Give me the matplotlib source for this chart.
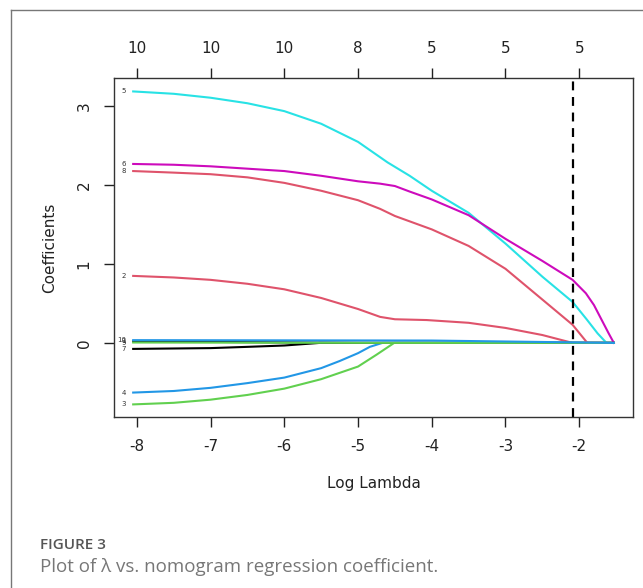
import matplotlib
matplotlib.use("Agg")
import matplotlib.pyplot as plt
from matplotlib.lines import Line2D

# --- 데이터 ---
x_ticks = [-8, -7, -6, -5, -4, -3, -2]
df_top = ["10", "10", "10", "8", "5", "5", "5"]
lambda_min = -2.09

var_labels = ["1", "2", "3", "4", "5", "6", "7", "8", "9", "10"]

x1 = [-8.05, -5.0, -1.53]
y1 = [0.02, 0.0, 0.0]

x2 = [-8.05, -7.5, -7.0, -6.5, -6.0, -5.5, -5.0, -4.7, -4.5, -4.07, -3.5, -3.0, -2.5, -2.09, -1.53]
y2 = [0.85, 0.83, 0.80, 0.75, 0.68, 0.57, 0.43, 0.33, 0.30, 0.29, 0.255, 0.19, 0.10, 0.0, 0.0]

x3 = [-8.05, -7.5, -7.0, -6.5, -6.0, -5.5, -5.0, -4.75, -4.51, -1.53]
y3 = [-0.78, -0.76, -0.72, -0.66, -0.58, -0.46, -0.30, -0.15, 0.0, 0.0]

x4 = [-8.05, -7.5, -7.0, -6.5, -6.0, -5.5, -5.25, -5.0, -4.84, -4.67, -1.53]
y4 = [-0.63, -0.61, -0.57, -0.51, -0.44, -0.32, -0.23, -0.13, -0.05, 0.0, 0.0]

x5 = [-8.05, -7.5, -7.0, -6.5, -6.0, -5.5, -5.0, -4.6, -4.3, -4.0, -3.5, -3.0, -2.5, -2.09, -1.9, -1.75, -1.63, -1.53]
y5 = [3.19, 3.16, 3.11, 3.04, 2.94, 2.78, 2.55, 2.29, 2.12, 1.93, 1.65, 1.26, 0.84, 0.52, 0.30, 0.12, 0.0, 0.0]

x6 = [-8.05, -7.5, -7.0, -6.5, -6.0, -5.5, -5.0, -4.7, -4.5, -4.3, -4.0, -3.5, -3.0, -2.5, -2.09, -1.91, -1.8, -1.7, -1.6, -1.53]
y6 = [2.27, 2.26, 2.24, 2.21, 2.18, 2.12, 2.05, 2.02, 1.99, 1.92, 1.82, 1.62, 1.32, 1.04, 0.80, 0.63, 0.48, 0.30, 0.12, 0.0]

x7 = [-8.05, -7.0, -6.5, -6.0, -5.52, -1.53]
y7 = [-0.076, -0.066, -0.05, -0.033, 0.0, 0.0]

x8 = [-8.05, -7.5, -7.0, -6.5, -6.0, -5.5, -5.0, -4.7, -4.5, -4.0, -3.5, -3.0, -2.5, -2.09, -1.89, -1.53]
y8 = [2.18, 2.16, 2.14, 2.10, 2.03, 1.93, 1.81, 1.70, 1.61, 1.44, 1.23, 0.94, 0.55, 0.23, 0.0, 0.0]

x9 = [-8.05, -4.4, -1.53]
y9 = [0.005, 0.0, 0.0]

x10 = [-8.05, -4.0, -1.53]
y10 = [0.035, 0.03, 0.0]

# R 기본 팔레트 (1:6 반복)
r_palette = ["black", "#DF536B", "#61D04F", "#2297E6", "#28E2E5", "#CD0BBC"]

xs = [x1, x2, x3, x4, x5, x6, x7, x8, x9, x10]
ys = [y1, y2, y3, y4, y5, y6, y7, y8, y9, y10]

fig = plt.figure(figsize=(6.43, 5.88), dpi=100)
ax = fig.add_axes([0.1773, 0.2908, 0.8072, 0.5765])

for i, (xv, yv) in enumerate(zip(xs, ys)):
    ax.plot(xv, yv, color=r_palette[i % 6], linewidth=1.5, solid_joinstyle="round")
    ax.text(xv[0] - 0.1, yv[0], var_labels[i], fontsize=5, color="#333333",
            ha="right", va="center")

ax.axvline(lambda_min, color="black", linestyle=(0, (4, 3)), linewidth=1.6)

ax.set_xlim(-8.31, -1.27)
ax.set_ylim(-0.94, 3.36)

ax.set_xticks(x_ticks)
ax.set_xticklabels([str(t) for t in x_ticks])
ax.set_yticks([0, 1, 2, 3])
ax.set_yticklabels(["0", "1", "2", "3"], rotation=90, va="center")
ax.tick_params(direction="out", length=7, width=1, labelsize=11, pad=9,
               colors="#222222")

ax.set_xlabel("Log Lambda", fontsize=11, labelpad=16, color="#222222")
ax.set_ylabel("Coefficients", fontsize=11, labelpad=14, color="#222222")

for s in ax.spines.values():
    s.set_color("#333333")
    s.set_linewidth(1)

top = ax.twiny()
top.set_xlim(ax.get_xlim())
top.set_xticks(x_ticks)
top.set_xticklabels(df_top)
top.tick_params(direction="out", length=7, width=1, labelsize=11, pad=9,
                colors="#222222")
for s in top.spines.values():
    s.set_visible(False)

# 바깥 테두리 (왼쪽/위)
fig.add_artist(Line2D([11 / 643, 11 / 643], [0, 1 - 10 / 588], color="#777777",
                      linewidth=1, transform=fig.transFigure))
fig.add_artist(Line2D([11 / 643, 1], [1 - 10 / 588, 1 - 10 / 588], color="#777777",
                      linewidth=1, transform=fig.transFigure))

fig.text(40 / 643, 1 - 545 / 588, "FIGURE 3", fontsize=11, color="#555555",
         family=["Open Sans", "DejaVu Sans"], weight="semibold", va="center")
fig.text(40 / 643, 1 - 567 / 588, "Plot of λ vs. nomogram regression coefficient.",
         fontsize=13.5, color="#777777", family=["Open Sans", "DejaVu Sans"], va="center")

fig.savefig("out.png", dpi=100)
